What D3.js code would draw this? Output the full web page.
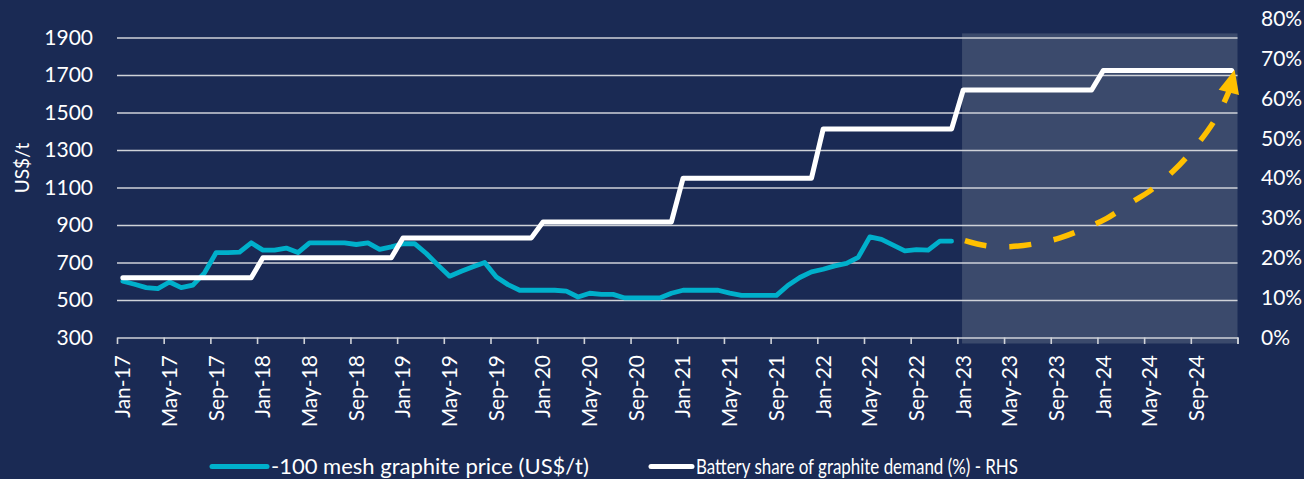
<!DOCTYPE html>
<html>
<head>
<meta charset="utf-8">
<script src="https://cdn.jsdelivr.net/npm/d3@7"></script>
<style>
  html, body { margin: 0; padding: 0; background: #1a2a54; }
  svg { display: block; }
  text { font-family: Lato, "Open Sans", sans-serif; fill: #ffffff; }
</style>
</head>
<body>
<svg id="chart" width="1304" height="479"></svg>
<script>
// ---------- DATA ----------
const months = d3.timeMonth.range(new Date(2017, 0, 1), new Date(2025, 0, 1)).map(d3.timeFormat("%b-%y"));

const tickLabels = ["Jan-17","May-17","Sep-17","Jan-18","May-18","Sep-18","Jan-19","May-19","Sep-19",
  "Jan-20","May-20","Sep-20","Jan-21","May-21","Sep-21","Jan-22","May-22","Sep-22",
  "Jan-23","May-23","Sep-23","Jan-24","May-24","Sep-24"];

// -100 mesh graphite price (US$/t), Jan-17 .. Dec-22
const priceValues = [
  600, 584, 566, 561, 596, 566, 579, 645, 753, 753, 755, 805,
  766, 766, 777, 753, 805, 805, 805, 805, 796, 805, 770, 783,
  800, 801, 748, 686, 627, 653, 677, 700, 623, 582, 552, 552,
  552, 552, 547, 516, 536, 530, 530, 511, 511, 511, 511, 536,
  552, 552, 552, 552, 537, 525, 525, 525, 525, 579, 620, 650,
  664, 682, 695, 727, 837, 823, 793, 762, 769, 766, 814, 814
];

// Battery share of graphite demand (%), Jan-17 .. Dec-24
const shareValues = [
  0.15,0.15,0.15,0.15,0.15,0.15,0.15,0.15,0.15,0.15,0.15,0.15,
  0.20,0.20,0.20,0.20,0.20,0.20,0.20,0.20,0.20,0.20,0.20,0.20,
  0.25,0.25,0.25,0.25,0.25,0.25,0.25,0.25,0.25,0.25,0.25,0.25,
  0.29,0.29,0.29,0.29,0.29,0.29,0.29,0.29,0.29,0.29,0.29,0.29,
  0.40,0.40,0.40,0.40,0.40,0.40,0.40,0.40,0.40,0.40,0.40,0.40,
  0.523,0.523,0.523,0.523,0.523,0.523,0.523,0.523,0.523,0.523,0.523,0.523,
  0.621,0.621,0.621,0.621,0.621,0.621,0.621,0.621,0.621,0.621,0.621,0.621,
  0.67,0.67,0.67,0.67,0.67,0.67,0.67,0.67,0.67,0.67,0.67,0.67
];

const leftTicks = [300, 500, 700, 900, 1100, 1300, 1500, 1700, 1900];
const rightTicks = [0, 0.1, 0.2, 0.3, 0.4, 0.5, 0.6, 0.7, 0.8];

// Forecast arrow path (month index, share on RHS)
const arrowIdx   = [72.15, 74.0, 76.0, 78.3, 80.3, 82.6, 84.3, 86.4, 88.0, 90.0, 91.3, 92.9, 93.9, 94.8];
const arrowShare = [0.243, 0.230, 0.228, 0.236, 0.250, 0.276, 0.299, 0.339, 0.368, 0.418, 0.458, 0.517, 0.563, 0.620];
const arrowTip   = [95.25, 0.672];

// Forecast shading (month index range, US$/t range)
const shadeIdx = [71.9, 95.5];
const shadeVal = [268, 1922];

const legendLabels = ["-100 mesh graphite price (US$/t)", "Battery share of graphite demand (%) - RHS"];

// ---------- LAYOUT ----------
const L = 117, R = 1237.5, T = 18.75, B = 337.5;
const COL = { bg: "#1a2a54", shade: "#3b4a6c", grid: "#cfd2d8", cyan: "#00b0cb", white: "#ffffff", gold: "#ffc000" };

const svg = d3.select("#chart");
svg.append("rect").attr("width", 1304).attr("height", 479).attr("fill", COL.bg);

const x = d3.scaleBand().domain(months).range([L, R]).padding(0);
const xi = d3.scaleLinear().domain([-0.5, months.length - 0.5]).range([L, R]);
const yL = d3.scaleLinear().domain([300, 2000]).range([B, T]);
const yR = d3.scaleLinear().domain([0, 0.8]).range([B, T]);

// shaded forecast area
svg.append("rect")
  .attr("x", xi(shadeIdx[0])).attr("y", yL(shadeVal[1]))
  .attr("width", xi(shadeIdx[1]) - xi(shadeIdx[0]))
  .attr("height", yL(shadeVal[0]) - yL(shadeVal[1]))
  .attr("fill", COL.shade);

// gridlines
const grid = svg.append("g").attr("transform", `translate(${L},0)`)
  .call(d3.axisLeft(yL).tickValues(leftTicks.slice(1)).tickSize(-(R - L)).tickFormat(""));
grid.select(".domain").remove();
grid.selectAll("line").attr("stroke", COL.grid).attr("stroke-width", 1.6);

// left axis labels
const ax = svg.append("g").attr("transform", `translate(${L},0)`)
  .call(d3.axisLeft(yL).tickValues(leftTicks).tickSize(0).tickPadding(24).tickFormat(d3.format("d")));
ax.select(".domain").remove();
ax.selectAll("text").attr("font-size", 21).attr("fill", "#fff").attr("font-family", "Lato");

// right axis labels
const ar = svg.append("g").attr("transform", `translate(${R},0)`)
  .call(d3.axisRight(yR).tickValues(rightTicks).tickSize(0).tickPadding(23.5).tickFormat(d3.format(".0%")));
ar.select(".domain").remove();
ar.selectAll("text").attr("font-size", 21).attr("fill", "#fff").attr("font-family", "Lato");

// x axis line + tick marks at boundaries
const bounds = d3.range(-0.5, months.length, 4).concat([months.length - 0.5]);
const axb = svg.append("g").attr("transform", `translate(0,${B})`)
  .call(d3.axisBottom(xi).tickValues(bounds).tickSize(6.5).tickSizeOuter(0).tickFormat(""));
axb.select(".domain").attr("stroke", COL.grid).attr("stroke-width", 1.6);
axb.selectAll(".tick line").attr("stroke", COL.grid).attr("stroke-width", 1.6);

// x labels
const axl = svg.append("g").attr("transform", `translate(0,${B})`)
  .call(d3.axisBottom(x).tickValues(tickLabels).tickSize(0));
axl.select(".domain").remove();
axl.selectAll("text")
  .attr("font-size", 21).attr("fill", "#fff").attr("font-family", "Lato")
  .attr("text-anchor", "end")
  .attr("transform", "translate(0,17.5) rotate(-90)")
  .attr("x", 0).attr("y", 0).attr("dy", "0.35em");

// y axis title
svg.append("text").text("US$/t")
  .attr("transform", "translate(22,168) rotate(-90)")
  .attr("text-anchor", "middle").attr("dy", "0.35em").attr("font-size", 19);

const xc = (d, i) => x(months[i]) + x.bandwidth() / 2;

// price line
svg.append("path").datum(priceValues)
  .attr("fill", "none").attr("stroke", COL.cyan).attr("stroke-width", 4.8)
  .attr("stroke-linejoin", "round").attr("stroke-linecap", "round")
  .attr("d", d3.line().x(xc).y(d => yL(d)));

// share line
svg.append("path").datum(shareValues)
  .attr("fill", "none").attr("stroke", COL.white).attr("stroke-width", 5)
  .attr("stroke-linejoin", "round").attr("stroke-linecap", "round")
  .attr("d", d3.line().x(xc).y(d => yR(d)));

// forecast dashed arrow
const arrowPts = arrowIdx.map((v, i) => [xi(v), yR(arrowShare[i])]);
svg.append("path").datum(arrowPts)
  .attr("fill", "none").attr("stroke", COL.gold).attr("stroke-width", 5.5)
  .attr("stroke-dasharray", "22 23")
  .attr("d", d3.line().curve(d3.curveCatmullRom.alpha(0.5)));
{
  const base = arrowPts[arrowPts.length - 1];
  const tip = [xi(arrowTip[0]), yR(arrowTip[1])];
  const dx = tip[0] - base[0], dy = tip[1] - base[1];
  const len = Math.hypot(dx, dy);
  const nx = -dy / len, ny = dx / len, hw = 10.5;
  const bx = base[0] - dx / len * 2, by = base[1] - dy / len * 2;
  svg.append("polygon")
    .attr("points", [[bx + nx * hw, by + ny * hw], tip, [bx - nx * hw, by - ny * hw]].map(p => p.join(",")).join(" "))
    .attr("fill", COL.gold);
}

// legend
const lg = svg.append("g");
const legendItems = [
  { label: legendLabels[0], color: COL.cyan, x0: 212, x1: 267, tx: 271, w: null },
  { label: legendLabels[1], color: COL.white, x0: 651, x1: 692, tx: 696, w: 322 }
];
legendItems.forEach(it => {
  lg.append("line").attr("x1", it.x0).attr("x2", it.x1).attr("y1", 466.5).attr("y2", 466.5)
    .attr("stroke", it.color).attr("stroke-width", 5).attr("stroke-linecap", "round");
  const t = lg.append("text").text(it.label).attr("x", it.tx).attr("y", 466.5).attr("dy", "0.35em")
    .attr("font-size", 22);
  if (it.w) t.attr("textLength", it.w).attr("lengthAdjust", "spacingAndGlyphs");
});
</script>
</body>
</html>
